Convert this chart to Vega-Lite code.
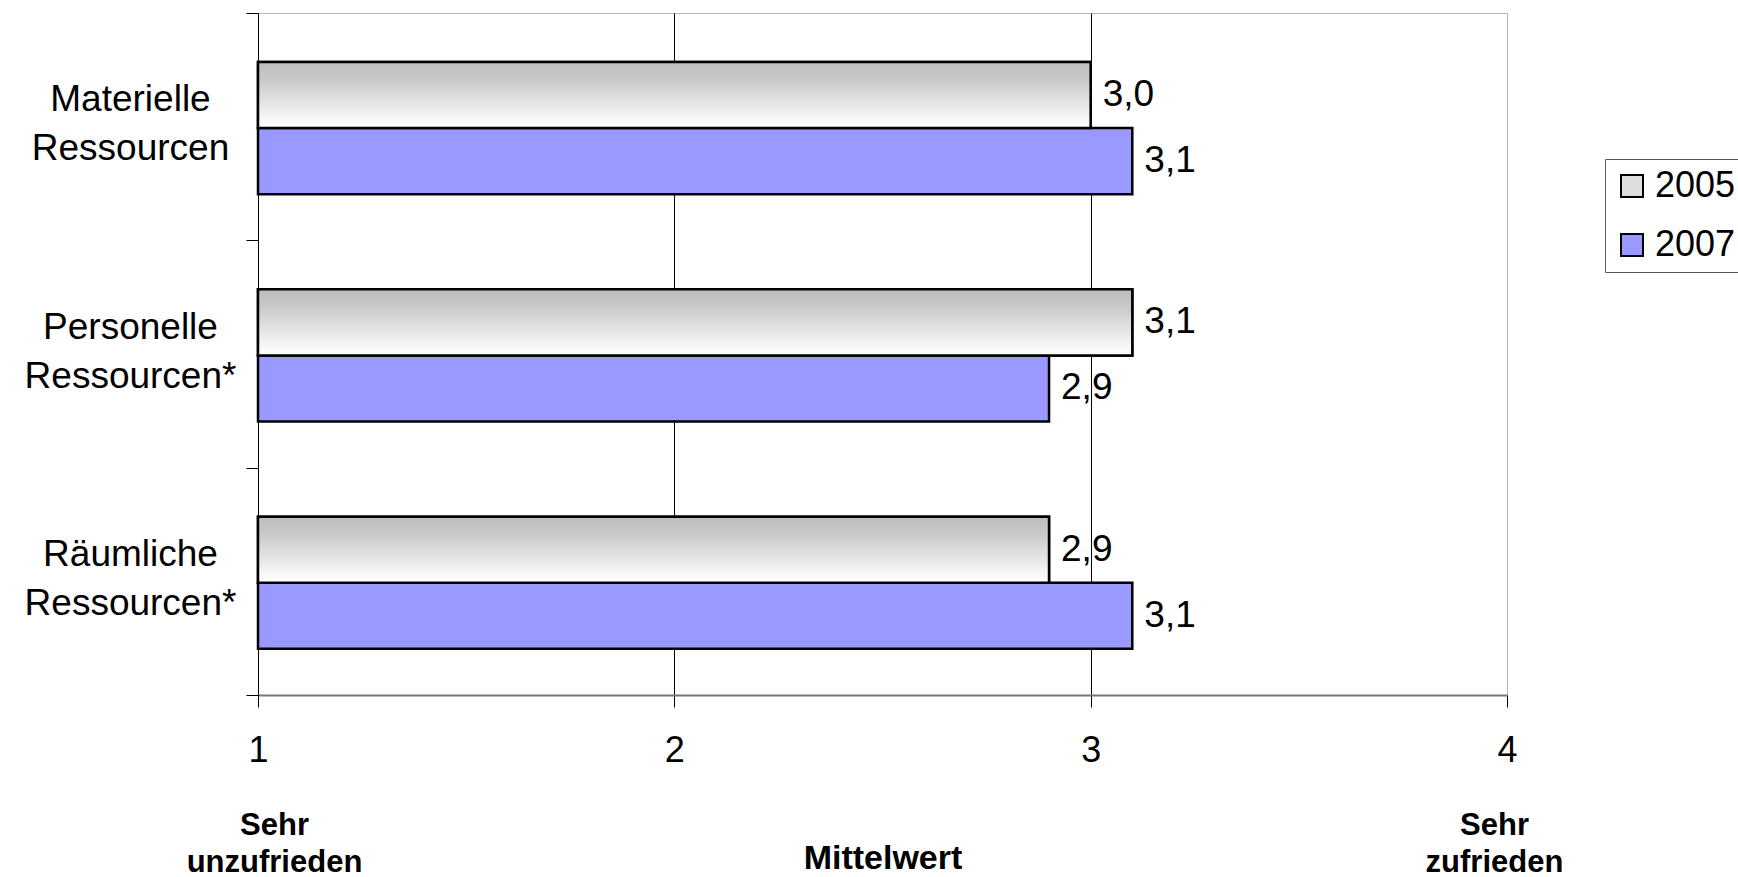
{
  "$schema": "https://vega.github.io/schema/vega-lite/v6.json",
  "width": 1249,
  "height": 682,
  "autosize": {"type": "none"},
  "padding": {"left": 258, "top": 13, "right": 231, "bottom": 182},
  "background": "white",
  "config": {
    "font": "Liberation Sans",
    "view": {"stroke": "#b4b4b4", "strokeWidth": 1},
    "locale": {"number": {"decimal": ",", "thousands": ".", "grouping": [3], "currency": ["", " €"]}}
  },
  "data": {
    "values": [
      {"kategorie": "Materielle Ressourcen", "jahr": "2005", "mittelwert": 3.0},
      {"kategorie": "Materielle Ressourcen", "jahr": "2007", "mittelwert": 3.1},
      {"kategorie": "Personelle Ressourcen*", "jahr": "2005", "mittelwert": 3.1},
      {"kategorie": "Personelle Ressourcen*", "jahr": "2007", "mittelwert": 2.9},
      {"kategorie": "Räumliche Ressourcen*", "jahr": "2005", "mittelwert": 2.9},
      {"kategorie": "Räumliche Ressourcen*", "jahr": "2007", "mittelwert": 3.1}
    ]
  },
  "encoding": {
    "y": {
      "field": "kategorie",
      "type": "nominal",
      "sort": ["Materielle Ressourcen", "Personelle Ressourcen*", "Räumliche Ressourcen*"],
      "scale": {"paddingInner": 0, "paddingOuter": 0},
      "axis": {
        "title": null,
        "tickBand": "extent",
        "tickSize": 12,
        "tickColor": "black",
        "domainColor": "black",
        "domainWidth": 1,
        "labelExpr": "split(datum.label, ' ')",
        "labelFontSize": 37,
        "labelColor": "black",
        "labelAlign": "center",
        "labelBaseline": "middle",
        "labelLineHeight": 49,
        "labelPadding": 116,
        "labelOffset": -27,
        "labelLimit": 400,
        "grid": false
      }
    },
    "yOffset": {"field": "jahr", "type": "nominal", "scale": {"paddingInner": 0, "paddingOuter": 0.72, "align": 0.515}}
  },
  "layer": [
    {
      "mark": {"type": "bar", "stroke": "black", "strokeWidth": 2.5},
      "encoding": {
        "x": {
          "field": "mittelwert",
          "type": "quantitative",
          "scale": {"domain": [1, 4], "nice": false, "zero": false},
          "axis": {
            "orient": "bottom",
            "title": null,
            "values": [1, 2, 3, 4],
            "format": "d",
            "labelFontSize": 36,
            "labelColor": "black",
            "labelPadding": 26,
            "labelFlush": false,
            "tickSize": 12,
            "tickColor": "black",
            "domainColor": "#777777",
            "domainWidth": 2,
            "grid": true,
            "gridColor": {"condition": {"test": "datum.value == 4", "value": "#b4b4b4"}, "value": "black"},
            "gridWidth": 1,
            "gridOpacity": 1
          }
        },
        "x2": {"datum": 1},
        "fill": {
          "field": "jahr",
          "type": "nominal",
          "scale": {"domain": ["2005", "2007"], "range": ["#dedede", "#9999ff"]},
          "legend": {
            "title": null,
            "orient": "none",
            "legendX": 1347,
            "legendY": 146,
            "strokeColor": "#555555",
            "fillColor": "white",
            "padding": 9,
            "rowPadding": 23,
            "labelFontSize": 36,
            "labelColor": "black",
            "labelOffset": 5,
            "symbolType": "square",
            "symbolSize": 484,
            "symbolStrokeColor": "black",
            "symbolStrokeWidth": 2
          }
        }
      }
    },
    {
      "transform": [{"filter": "datum.jahr == '2005'"}],
      "mark": {
        "type": "bar",
        "stroke": "black",
        "strokeWidth": 2.5,
        "color": {
          "gradient": "linear", "x1": 0, "y1": 0, "x2": 0, "y2": 1,
          "stops": [
            {"offset": 0, "color": "#bdbdbd"},
            {"offset": 0.25, "color": "#c8c8c8"},
            {"offset": 0.85, "color": "#f6f6f6"},
            {"offset": 1, "color": "#ffffff"}
          ]
        }
      },
      "encoding": {
        "x": {"field": "mittelwert", "type": "quantitative", "axis": null},
        "x2": {"datum": 1}
      }
    },
    {
      "mark": {"type": "text", "align": "left", "baseline": "middle", "dx": 12, "fontSize": 37, "color": "black"},
      "encoding": {
        "x": {
          "field": "mittelwert",
          "type": "quantitative",
          "axis": {
            "orient": "bottom",
            "values": [1, 4],
            "labelExpr": "datum.value == 1 ? ['Sehr', 'unzufrieden'] : ['Sehr', 'zufrieden']",
            "labelFontSize": 31,
            "labelFontWeight": "bold",
            "labelColor": "black",
            "labelLineHeight": 37,
            "labelBaseline": "top",
            "labelAlign": "center",
            "labelPadding": 115,
            "labelFlush": false,
            "labelOverlap": false,
            "labelOffset": {"condition": {"test": "datum.value == 1", "value": 16}, "value": -13},
            "ticks": false,
            "domain": false,
            "grid": false,
            "title": "Mittelwert",
            "titleFontSize": 34,
            "titleFontWeight": "bold",
            "titleColor": "black",
            "titleBaseline": "alphabetic",
            "titleY": 173
          }
        },
        "text": {"field": "mittelwert", "type": "quantitative", "format": ".1f"}
      }
    }
  ],
  "resolve": {"axis": {"x": "independent"}}
}
